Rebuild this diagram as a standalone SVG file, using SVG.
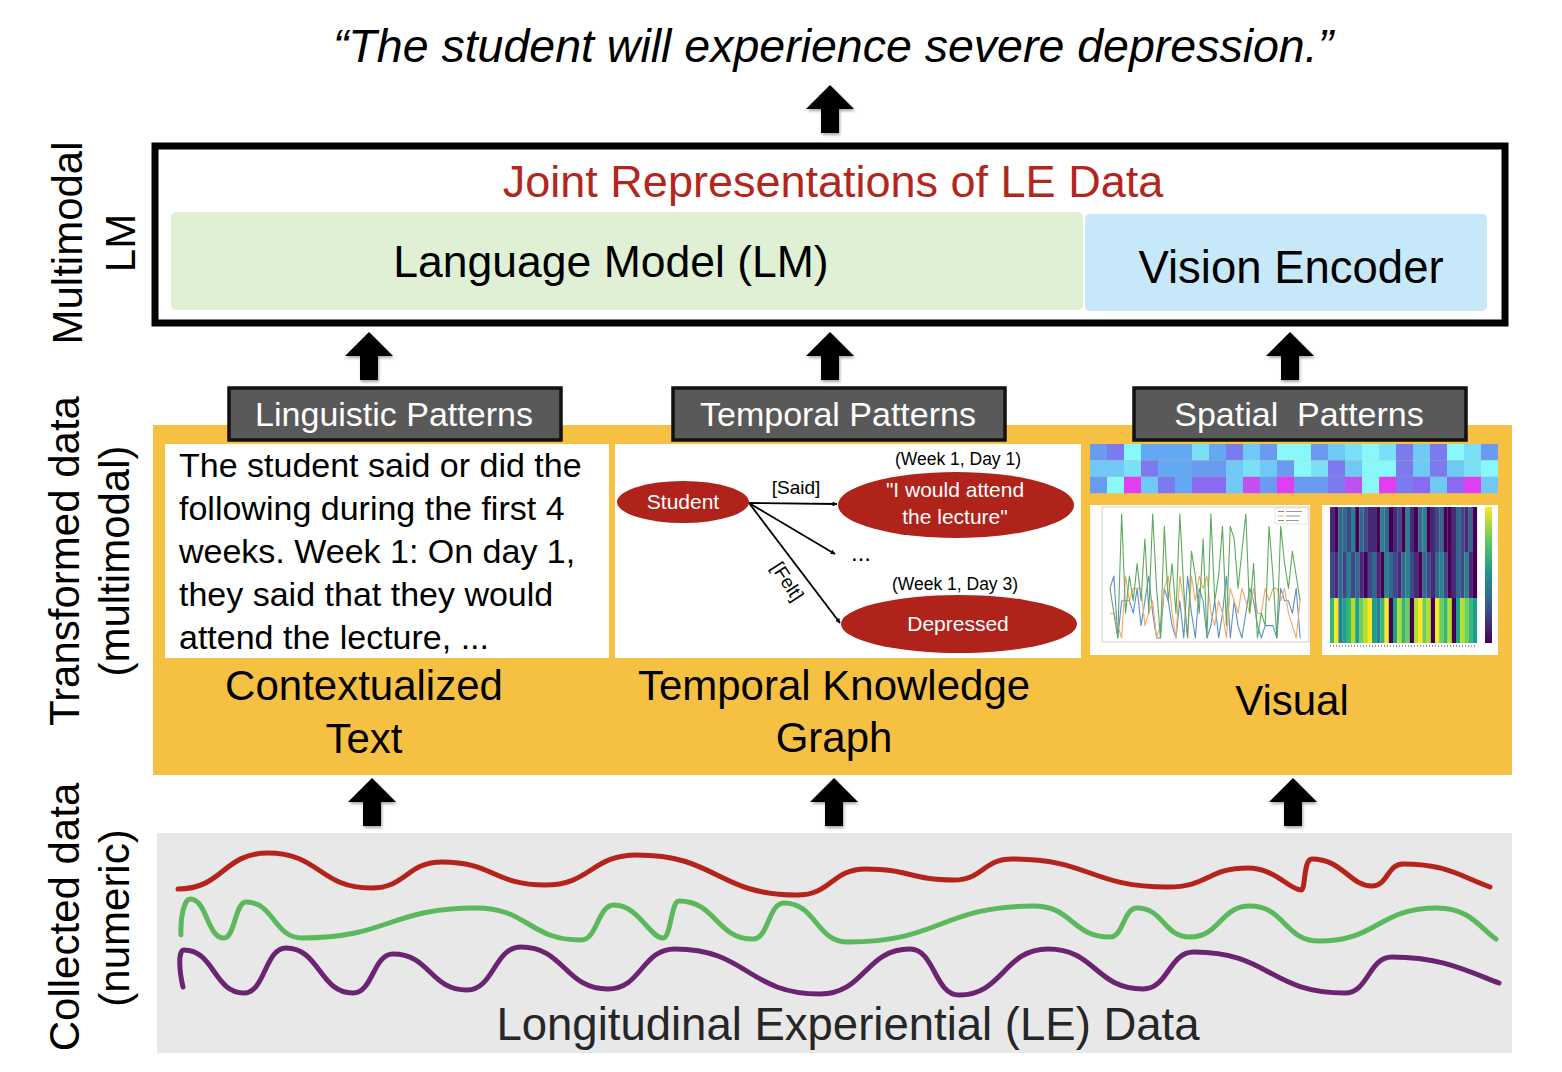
<svg xmlns="http://www.w3.org/2000/svg" width="1562" height="1072" viewBox="0 0 1562 1072">
<style>
text{font-family:'Liberation Sans',Arial,sans-serif;}
.side{font-size:42px;fill:#000;text-anchor:middle;}
.big{font-size:42px;fill:#000;text-anchor:middle;}
.pat{font-size:34px;fill:#fff;text-anchor:middle;white-space:pre;}
.patbox{fill:#595959;stroke:#111;stroke-width:3.5;}
.body{font-size:34px;fill:#000;}
.node{fill:#B0231B;}
.ntext{font-size:21px;fill:#fff;text-anchor:middle;}
.small{font-size:17.5px;fill:#000;text-anchor:middle;}
.edge{stroke:#000;stroke-width:1.8;fill:none;marker-end:url(#ah);}
.wave{fill:none;stroke-width:5;stroke-linecap:round;}
.ln{fill:none;stroke-width:1.1;vector-effect:non-scaling-stroke;stroke-linejoin:round;}
</style>
<defs>
<marker id="ah" viewBox="0 0 10 10" refX="9" refY="5" markerWidth="5" markerHeight="5" orient="auto" markerUnits="userSpaceOnUse">
<path d="M0,0 L10,5 L0,10 z" fill="#000"/>
</marker>
<path id="up" d="M0,0 L24,24 L9,24 L9,48 L-9,48 L-9,24 L-24,24 Z"/>
<filter id="sh" x="-30%" y="-30%" width="160%" height="160%">
<feDropShadow dx="1" dy="2" stdDeviation="1.5" flood-color="#000" flood-opacity="0.35"/>
</filter>
<linearGradient id="vir" x1="0" y1="1" x2="0" y2="0">
<stop offset="0" stop-color="#440154"/><stop offset="0.25" stop-color="#3b528b"/><stop offset="0.5" stop-color="#21918c"/><stop offset="0.75" stop-color="#5ec962"/><stop offset="1" stop-color="#fde725"/>
</linearGradient>
</defs>

<!-- Title -->
<g id="output">
<text x="833" y="62" style="font-size:46.5px;font-style:italic;text-anchor:middle;fill:#000">“The student will experience severe depression.”</text>
</g>

<!-- Side labels -->
<g id="side-labels">
<text class="side" transform="translate(82,243) rotate(-90)">Multimodal</text>
<text class="side" transform="translate(135,243) rotate(-90)">LM</text>
<text class="side" transform="translate(79,561) rotate(-90)">Transformed data</text>
<text class="side" transform="translate(129,561) rotate(-90)">(multimodal)</text>
<text class="side" transform="translate(79,917) rotate(-90)">Collected data</text>
<text class="side" transform="translate(129,918) rotate(-90)">(numeric)</text>
</g>

<!-- Multimodal LM box -->
<g id="mlm">
<rect x="155" y="146" width="1350" height="177" fill="#fff" stroke="#000" stroke-width="7"/>
<text x="833" y="197" style="font-size:45px;fill:#B3261E;text-anchor:middle">Joint Representations of LE Data</text>
</g>
<g id="lm">
<rect x="171" y="212" width="912" height="98" rx="5" fill="#DFF0D5"/>
<text x="611" y="277" style="font-size:44.5px;text-anchor:middle;fill:#000">Language Model (LM)</text>
</g>
<g id="vision">
<rect x="1085" y="214" width="402" height="97" rx="5" fill="#C7E8F9"/>
<text x="1291" y="283" style="font-size:45.5px;text-anchor:middle;fill:#000">Vision Encoder</text>
</g>

<!-- Transformed panel -->
<g id="transformed-panel">
<rect x="153" y="425" width="1359" height="350" fill="#F6C143"/>
</g>

<!-- Pattern labels -->
<g id="ling-patterns">
<rect class="patbox" x="229" y="388" width="332" height="52"/>
<text class="pat" x="394" y="426">Linguistic Patterns</text>
</g>
<g id="temp-patterns">
<rect class="patbox" x="673" y="388" width="332" height="52"/>
<text class="pat" x="838" y="426">Temporal Patterns</text>
</g>
<g id="spat-patterns">
<rect class="patbox" x="1134" y="388" width="332" height="52"/>
<text class="pat" x="1299" y="426">Spatial  Patterns</text>
</g>

<!-- Contextualized text -->
<g id="ctx-text">
<rect x="165" y="444" width="444" height="214" fill="#fff"/>
<text class="body" x="179" y="477">The student said or did the</text>
<text class="body" x="179" y="520">following during the first 4</text>
<text class="body" x="179" y="563">weeks. Week 1: On day 1,</text>
<text class="body" x="179" y="606">they said that they would</text>
<text class="body" x="179" y="649">attend the lecture, ...</text>
<text class="big" x="364" y="700">Contextualized</text>
<text class="big" x="364" y="753">Text</text>
</g>

<!-- Temporal knowledge graph -->
<g id="tkg">
<rect x="615" y="444" width="466" height="214" fill="#fff"/>
<text class="big" x="834" y="700">Temporal Knowledge</text>
<text class="big" x="834" y="752">Graph</text>
</g>
<g id="kg-student">
<ellipse class="node" cx="683" cy="502" rx="66" ry="21"/>
<text class="ntext" x="683" y="509">Student</text>
</g>
<g id="kg-attend">
<text class="small" x="958" y="465">(Week 1, Day 1)</text>
<ellipse class="node" cx="956" cy="505" rx="118" ry="33"/>
<text class="ntext" x="955" y="497">"I would attend</text>
<text class="ntext" x="955" y="524">the lecture"</text>
</g>
<g id="kg-depressed">
<text class="small" x="955" y="590">(Week 1, Day 3)</text>
<ellipse class="node" cx="959" cy="624" rx="118" ry="29"/>
<text class="ntext" x="958" y="631">Depressed</text>
</g>
<g id="kg-edges">
<line class="edge" x1="749" y1="503" x2="837" y2="504"/>
<line class="edge" x1="749" y1="503" x2="835" y2="554"/>
<line class="edge" x1="749" y1="503" x2="840" y2="623"/>
<text style="font-size:19px;text-anchor:middle;fill:#000" x="796" y="494">[Said]</text>
<text style="font-size:19px;text-anchor:middle;fill:#000" transform="translate(782,585) rotate(57)">[Felt]</text>
<text style="font-size:24px;text-anchor:middle;fill:#000" x="861" y="561">...</text>
</g>

<!-- Visual -->
<g id="visual">
<text class="big" x="1292" y="715">Visual</text>
<g id="strip">
<rect x="1090" y="444" width="17" height="16.4" fill="#6B9BF0"/><rect x="1107" y="444" width="17" height="16.4" fill="#7B7BEF"/><rect x="1124" y="444" width="17" height="16.4" fill="#88F8FC"/><rect x="1141" y="444" width="17" height="16.4" fill="#62A8F2"/><rect x="1158" y="444" width="17" height="16.4" fill="#62A8F2"/><rect x="1175" y="444" width="17" height="16.4" fill="#62A8F2"/><rect x="1192" y="444" width="17" height="16.4" fill="#7AE0F7"/><rect x="1209" y="444" width="17" height="16.4" fill="#62A8F2"/><rect x="1226" y="444" width="17" height="16.4" fill="#7B7BEF"/><rect x="1243" y="444" width="17" height="16.4" fill="#6FC8F5"/><rect x="1260" y="444" width="17" height="16.4" fill="#6B9BF0"/><rect x="1277" y="444" width="17" height="16.4" fill="#88F8FC"/><rect x="1294" y="444" width="17" height="16.4" fill="#88F8FC"/><rect x="1311" y="444" width="17" height="16.4" fill="#6B9BF0"/><rect x="1328" y="444" width="17" height="16.4" fill="#6FC8F5"/><rect x="1345" y="444" width="17" height="16.4" fill="#7AE0F7"/><rect x="1362" y="444" width="17" height="16.4" fill="#88F8FC"/><rect x="1379" y="444" width="17" height="16.4" fill="#7AE0F7"/><rect x="1396" y="444" width="17" height="16.4" fill="#7B7BEF"/><rect x="1413" y="444" width="17" height="16.4" fill="#6FC8F5"/><rect x="1430" y="444" width="17" height="16.4" fill="#7B7BEF"/><rect x="1447" y="444" width="17" height="16.4" fill="#88F8FC"/><rect x="1464" y="444" width="17" height="16.4" fill="#7AE0F7"/><rect x="1481" y="444" width="17" height="16.4" fill="#6B9BF0"/>
<rect x="1090" y="460.4" width="17" height="16.4" fill="#6FC8F5"/><rect x="1107" y="460.4" width="17" height="16.4" fill="#6FC8F5"/><rect x="1124" y="460.4" width="17" height="16.4" fill="#7AE0F7"/><rect x="1141" y="460.4" width="17" height="16.4" fill="#7B7BEF"/><rect x="1158" y="460.4" width="17" height="16.4" fill="#62A8F2"/><rect x="1175" y="460.4" width="17" height="16.4" fill="#62A8F2"/><rect x="1192" y="460.4" width="17" height="16.4" fill="#6B9BF0"/><rect x="1209" y="460.4" width="17" height="16.4" fill="#6B9BF0"/><rect x="1226" y="460.4" width="17" height="16.4" fill="#6FC8F5"/><rect x="1243" y="460.4" width="17" height="16.4" fill="#7AE0F7"/><rect x="1260" y="460.4" width="17" height="16.4" fill="#6FC8F5"/><rect x="1277" y="460.4" width="17" height="16.4" fill="#6B9BF0"/><rect x="1294" y="460.4" width="17" height="16.4" fill="#88F8FC"/><rect x="1311" y="460.4" width="17" height="16.4" fill="#7AE0F7"/><rect x="1328" y="460.4" width="17" height="16.4" fill="#7B7BEF"/><rect x="1345" y="460.4" width="17" height="16.4" fill="#6FC8F5"/><rect x="1362" y="460.4" width="17" height="16.4" fill="#88F8FC"/><rect x="1379" y="460.4" width="17" height="16.4" fill="#88F8FC"/><rect x="1396" y="460.4" width="17" height="16.4" fill="#7B7BEF"/><rect x="1413" y="460.4" width="17" height="16.4" fill="#6FC8F5"/><rect x="1430" y="460.4" width="17" height="16.4" fill="#7B7BEF"/><rect x="1447" y="460.4" width="17" height="16.4" fill="#6FC8F5"/><rect x="1464" y="460.4" width="17" height="16.4" fill="#7AE0F7"/><rect x="1481" y="460.4" width="17" height="16.4" fill="#88F8FC"/>
<rect x="1090" y="476.8" width="17" height="16.4" fill="#6B9BF0"/><rect x="1107" y="476.8" width="17" height="16.4" fill="#88F8FC"/><rect x="1124" y="476.8" width="17" height="16.4" fill="#E03EF0"/><rect x="1141" y="476.8" width="17" height="16.4" fill="#6FC8F5"/><rect x="1158" y="476.8" width="17" height="16.4" fill="#7B7BEF"/><rect x="1175" y="476.8" width="17" height="16.4" fill="#62A8F2"/><rect x="1192" y="476.8" width="17" height="16.4" fill="#8A6AF0"/><rect x="1209" y="476.8" width="17" height="16.4" fill="#8A6AF0"/><rect x="1226" y="476.8" width="17" height="16.4" fill="#6FC8F5"/><rect x="1243" y="476.8" width="17" height="16.4" fill="#C050F0"/><rect x="1260" y="476.8" width="17" height="16.4" fill="#6B9BF0"/><rect x="1277" y="476.8" width="17" height="16.4" fill="#E03EF0"/><rect x="1294" y="476.8" width="17" height="16.4" fill="#6B9BF0"/><rect x="1311" y="476.8" width="17" height="16.4" fill="#6B9BF0"/><rect x="1328" y="476.8" width="17" height="16.4" fill="#7B7BEF"/><rect x="1345" y="476.8" width="17" height="16.4" fill="#C050F0"/><rect x="1362" y="476.8" width="17" height="16.4" fill="#88F8FC"/><rect x="1379" y="476.8" width="17" height="16.4" fill="#E03EF0"/><rect x="1396" y="476.8" width="17" height="16.4" fill="#7B7BEF"/><rect x="1413" y="476.8" width="17" height="16.4" fill="#8A6AF0"/><rect x="1430" y="476.8" width="17" height="16.4" fill="#6FC8F5"/><rect x="1447" y="476.8" width="17" height="16.4" fill="#8A6AF0"/><rect x="1464" y="476.8" width="17" height="16.4" fill="#E03EF0"/><rect x="1481" y="476.8" width="17" height="16.4" fill="#6FC8F5"/>
</g>
<g id="linechart">
<rect x="1090" y="505" width="220" height="150" fill="#fff"/>
<rect x="1102" y="507" width="207" height="135" fill="none" stroke="#bbb" stroke-width="0.7"/>
<g transform="translate(1110,638) scale(3.88,-12.4)">
<polyline class="ln" stroke="#5B8FC9" points="0,4 1,5 2,0 3,3 4,3 5,3 6,2 7,4 8,1 9,3 10,5 11,2 12,0 13,0 14,4 15,3 16,1 17,0 18,3 19,0 20,5 21,2 22,0 23,4 24,3 25,0 26,1 27,3 28,0 29,2 30,5 31,0 32,3 33,1 34,0 35,2 36,4 37,3 38,1 39,0 40,1 41,1 42,1 43,0 44,4 45,3 46,3 47,2 48,4 49,0"/>
<polyline class="ln" stroke="#F0A868" points="0,2 1,2 2,1 3,0 4,5 5,3 6,4 7,4 8,4 9,1 10,2 11,3 12,0 13,1 14,4 15,5 16,2 17,0 18,5 19,3 20,0 21,5 22,3 23,5 24,4 25,5 26,2 27,1 28,3 29,2 30,0 31,4 32,3 33,2 34,4 35,3 36,2 37,4 38,2 39,2 40,4 41,3 42,4 43,4 44,3 45,4 46,2 47,1 48,0 49,3"/>
<polyline class="ln" stroke="#5DAA5D" points="0,4 1,2 2,0 3,10 4,2 5,5 6,3 7,6 8,3 9,8 10,2 11,10 12,4 13,0 14,9 15,3 16,6 17,2 18,10 19,4 20,0 21,7 22,5 23,2 24,8 25,0 26,10 27,3 28,5 29,9 30,1 31,9 32,8 33,4 34,7 35,10 36,2 37,6 38,0 39,2 40,1 41,9 42,5 43,0 44,9 45,6 46,4 47,7 48,5 49,3"/>
</g>
<rect x="1275" y="508" width="33" height="16" fill="#fff" stroke="#ccc" stroke-width="0.5"/>
<line x1="1278" y1="511.5" x2="1284" y2="511.5" stroke="#5B8FC9" stroke-width="1"/><line x1="1286" y1="511.5" x2="1302" y2="511.5" stroke="#999" stroke-width="1"/>
<line x1="1278" y1="516" x2="1284" y2="516" stroke="#F0A868" stroke-width="1"/><line x1="1286" y1="516" x2="1300" y2="516" stroke="#999" stroke-width="1"/>
<line x1="1278" y1="520.5" x2="1284" y2="520.5" stroke="#5DAA5D" stroke-width="1"/><line x1="1286" y1="520.5" x2="1299" y2="520.5" stroke="#999" stroke-width="1"/>
</g>
<g id="heatmap">
<rect x="1322" y="505" width="176" height="150" fill="#fff"/>
<g id="hm-r1">
<rect x="1330" y="507" width="4.3" height="45" fill="#482878"/><rect x="1334.2" y="507" width="4.3" height="45" fill="#440154"/><rect x="1338.4" y="507" width="4.3" height="45" fill="#31688e"/><rect x="1342.6" y="507" width="4.3" height="45" fill="#31688e"/><rect x="1346.8" y="507" width="4.3" height="45" fill="#3e4989"/><rect x="1351" y="507" width="4.3" height="45" fill="#26828e"/><rect x="1355.2" y="507" width="4.3" height="45" fill="#440154"/><rect x="1359.4" y="507" width="4.3" height="45" fill="#31688e"/><rect x="1363.6" y="507" width="4.3" height="45" fill="#3e4989"/><rect x="1367.8" y="507" width="4.3" height="45" fill="#482878"/><rect x="1372" y="507" width="4.3" height="45" fill="#482878"/><rect x="1376.2" y="507" width="4.3" height="45" fill="#440154"/><rect x="1380.4" y="507" width="4.3" height="45" fill="#26828e"/><rect x="1384.6" y="507" width="4.3" height="45" fill="#31688e"/><rect x="1388.8" y="507" width="4.3" height="45" fill="#440154"/><rect x="1393" y="507" width="4.3" height="45" fill="#482878"/><rect x="1397.2" y="507" width="4.3" height="45" fill="#3e4989"/><rect x="1401.4" y="507" width="4.3" height="45" fill="#440154"/><rect x="1405.6" y="507" width="4.3" height="45" fill="#26828e"/><rect x="1409.8" y="507" width="4.3" height="45" fill="#482878"/><rect x="1414" y="507" width="4.3" height="45" fill="#440154"/><rect x="1418.2" y="507" width="4.3" height="45" fill="#31688e"/><rect x="1422.4" y="507" width="4.3" height="45" fill="#26828e"/><rect x="1426.6" y="507" width="4.3" height="45" fill="#440154"/><rect x="1430.8" y="507" width="4.3" height="45" fill="#482878"/><rect x="1435" y="507" width="4.3" height="45" fill="#3e4989"/><rect x="1439.2" y="507" width="4.3" height="45" fill="#31688e"/><rect x="1443.4" y="507" width="4.3" height="45" fill="#440154"/><rect x="1447.6" y="507" width="4.3" height="45" fill="#440154"/><rect x="1451.8" y="507" width="4.3" height="45" fill="#482878"/><rect x="1456" y="507" width="4.3" height="45" fill="#31688e"/><rect x="1460.2" y="507" width="4.3" height="45" fill="#3e4989"/><rect x="1464.4" y="507" width="4.3" height="45" fill="#482878"/><rect x="1468.6" y="507" width="4.3" height="45" fill="#31688e"/><rect x="1472.8" y="507" width="4.3" height="45" fill="#440154"/>
</g>
<g id="hm-r2">
<rect x="1330" y="552" width="4.3" height="46" fill="#3e4989"/><rect x="1334.2" y="552" width="4.3" height="46" fill="#482878"/><rect x="1338.4" y="552" width="4.3" height="46" fill="#31688e"/><rect x="1342.6" y="552" width="4.3" height="46" fill="#3e4989"/><rect x="1346.8" y="552" width="4.3" height="46" fill="#26828e"/><rect x="1351" y="552" width="4.3" height="46" fill="#3e4989"/><rect x="1355.2" y="552" width="4.3" height="46" fill="#31688e"/><rect x="1359.4" y="552" width="4.3" height="46" fill="#482878"/><rect x="1363.6" y="552" width="4.3" height="46" fill="#440154"/><rect x="1367.8" y="552" width="4.3" height="46" fill="#3e4989"/><rect x="1372" y="552" width="4.3" height="46" fill="#31688e"/><rect x="1376.2" y="552" width="4.3" height="46" fill="#482878"/><rect x="1380.4" y="552" width="4.3" height="46" fill="#440154"/><rect x="1384.6" y="552" width="4.3" height="46" fill="#26828e"/><rect x="1388.8" y="552" width="4.3" height="46" fill="#31688e"/><rect x="1393" y="552" width="4.3" height="46" fill="#3e4989"/><rect x="1397.2" y="552" width="4.3" height="46" fill="#482878"/><rect x="1401.4" y="552" width="4.3" height="46" fill="#31688e"/><rect x="1405.6" y="552" width="4.3" height="46" fill="#26828e"/><rect x="1409.8" y="552" width="4.3" height="46" fill="#3e4989"/><rect x="1414" y="552" width="4.3" height="46" fill="#482878"/><rect x="1418.2" y="552" width="4.3" height="46" fill="#440154"/><rect x="1422.4" y="552" width="4.3" height="46" fill="#31688e"/><rect x="1426.6" y="552" width="4.3" height="46" fill="#3e4989"/><rect x="1430.8" y="552" width="4.3" height="46" fill="#482878"/><rect x="1435" y="552" width="4.3" height="46" fill="#31688e"/><rect x="1439.2" y="552" width="4.3" height="46" fill="#26828e"/><rect x="1443.4" y="552" width="4.3" height="46" fill="#3e4989"/><rect x="1447.6" y="552" width="4.3" height="46" fill="#440154"/><rect x="1451.8" y="552" width="4.3" height="46" fill="#482878"/><rect x="1456" y="552" width="4.3" height="46" fill="#31688e"/><rect x="1460.2" y="552" width="4.3" height="46" fill="#3e4989"/><rect x="1464.4" y="552" width="4.3" height="46" fill="#26828e"/><rect x="1468.6" y="552" width="4.3" height="46" fill="#482878"/><rect x="1472.8" y="552" width="4.3" height="46" fill="#440154"/>
</g>
<g id="hm-r3">
<rect x="1330" y="598" width="4.3" height="45" fill="#35b779"/><rect x="1334.2" y="598" width="4.3" height="45" fill="#fde725"/><rect x="1338.4" y="598" width="4.3" height="45" fill="#26828e"/><rect x="1342.6" y="598" width="4.3" height="45" fill="#1f9e89"/><rect x="1346.8" y="598" width="4.3" height="45" fill="#35b779"/><rect x="1351" y="598" width="4.3" height="45" fill="#b5de2b"/><rect x="1355.2" y="598" width="4.3" height="45" fill="#1f9e89"/><rect x="1359.4" y="598" width="4.3" height="45" fill="#6ece58"/><rect x="1363.6" y="598" width="4.3" height="45" fill="#b5de2b"/><rect x="1367.8" y="598" width="4.3" height="45" fill="#fde725"/><rect x="1372" y="598" width="4.3" height="45" fill="#1f9e89"/><rect x="1376.2" y="598" width="4.3" height="45" fill="#26828e"/><rect x="1380.4" y="598" width="4.3" height="45" fill="#35b779"/><rect x="1384.6" y="598" width="4.3" height="45" fill="#fde725"/><rect x="1388.8" y="598" width="4.3" height="45" fill="#440154"/><rect x="1393" y="598" width="4.3" height="45" fill="#1f9e89"/><rect x="1397.2" y="598" width="4.3" height="45" fill="#b5de2b"/><rect x="1401.4" y="598" width="4.3" height="45" fill="#35b779"/><rect x="1405.6" y="598" width="4.3" height="45" fill="#6ece58"/><rect x="1409.8" y="598" width="4.3" height="45" fill="#440154"/><rect x="1414" y="598" width="4.3" height="45" fill="#b5de2b"/><rect x="1418.2" y="598" width="4.3" height="45" fill="#fde725"/><rect x="1422.4" y="598" width="4.3" height="45" fill="#6ece58"/><rect x="1426.6" y="598" width="4.3" height="45" fill="#b5de2b"/><rect x="1430.8" y="598" width="4.3" height="45" fill="#440154"/><rect x="1435" y="598" width="4.3" height="45" fill="#fde725"/><rect x="1439.2" y="598" width="4.3" height="45" fill="#6ece58"/><rect x="1443.4" y="598" width="4.3" height="45" fill="#35b779"/><rect x="1447.6" y="598" width="4.3" height="45" fill="#b5de2b"/><rect x="1451.8" y="598" width="4.3" height="45" fill="#440154"/><rect x="1456" y="598" width="4.3" height="45" fill="#1f9e89"/><rect x="1460.2" y="598" width="4.3" height="45" fill="#b5de2b"/><rect x="1464.4" y="598" width="4.3" height="45" fill="#6ece58"/><rect x="1468.6" y="598" width="4.3" height="45" fill="#35b779"/><rect x="1472.8" y="598" width="4.3" height="45" fill="#1f9e89"/>
</g>
<rect x="1485" y="507" width="7" height="136" fill="url(#vir)"/>
<line x1="1330" y1="646" x2="1477" y2="646" stroke="#999" stroke-width="2" stroke-dasharray="1,2"/>
</g>
</g>

<!-- Collected data -->
<g id="collected">
<rect x="157" y="833" width="1355" height="220" fill="#E8E8E8"/>
<path class="wave" stroke="#B5231A" d="M178,889 C223,889 223,853 268,853 C319.5,853 319.5,888 371,888 C406.5,888 406.5,862 442,862 C493.5,862 493.5,885 545,885 C591,885 591,855 637,855 C717,855 717,895 797,895 C831.5,895 831.5,869 866,869 C910,869 910,880 954,880 C983,880 983,859 1012,859 C1090,859 1090,887 1168,887 C1208,887 1208,868 1248,868 C1274.5,868 1290,890 1301,890 C1306,890 1303,859 1312,859 C1342,859 1350,886 1372,886 C1387.5,886 1387.5,864 1403,864 C1446,864 1460,876 1490,887"/>
<path class="wave" stroke="#5BB85C" d="M181,935 C180,915 185,899 190,899 C207,899 207,938 224,938 C235,938 235,902 246,902 C274,902 274,938 302,938 C389,938 389,908 476,908 C528.5,908 528.5,940 581,940 C597.5,940 597.5,905 614,905 C638.5,905 650,938 663,938 C671,938 671,901 679,901 C716,901 716,939 753,939 C768.5,939 768.5,903 784,903 C816,903 816,942 848,942 C941,942 941,906 1034,906 C1072,906 1072,937 1110,937 C1123.5,937 1123.5,908 1137,908 C1163.5,908 1163.5,937 1190,937 C1220,937 1220,906 1250,906 C1284.5,906 1284.5,941 1319,941 C1378,941 1378,908 1437,908 C1470,908 1480,928 1496,939"/>
<path class="wave" stroke="#6B2472" d="M183,987 C179,970 178,950 184,950 C214,950 214,993 244,993 C265,993 265,948 286,948 C319.5,948 319.5,993 353,993 C373,993 373,954 393,954 C430,954 430,990 467,990 C494,990 494,947 521,947 C564.5,947 564.5,989 608,989 C641.5,989 641.5,949 675,949 C747.5,949 747.5,994 820,994 C865,994 865,949 910,949 C934.5,949 934.5,995 959,995 C1003.5,995 1003.5,949 1048,949 C1095.5,949 1095.5,989 1143,989 C1168.5,989 1168.5,952 1194,952 C1269.5,952 1269.5,993 1345,993 C1368.5,993 1368.5,957 1392,957 C1440,957 1465,970 1499,983"/>
<text x="848" y="1040" style="font-size:45.5px;text-anchor:middle;fill:#262626">Longitudinal Experiential (LE) Data</text>
</g>

<!-- Connectors -->
<g id="connectors" fill="#000" filter="url(#sh)">
<use href="#up" x="830" y="85"/>
<use href="#up" x="369" y="332"/>
<use href="#up" x="830" y="332"/>
<use href="#up" x="1290" y="332"/>
<use href="#up" x="372" y="778"/>
<use href="#up" x="834" y="778"/>
<use href="#up" x="1293" y="778"/>
</g>
</svg>
